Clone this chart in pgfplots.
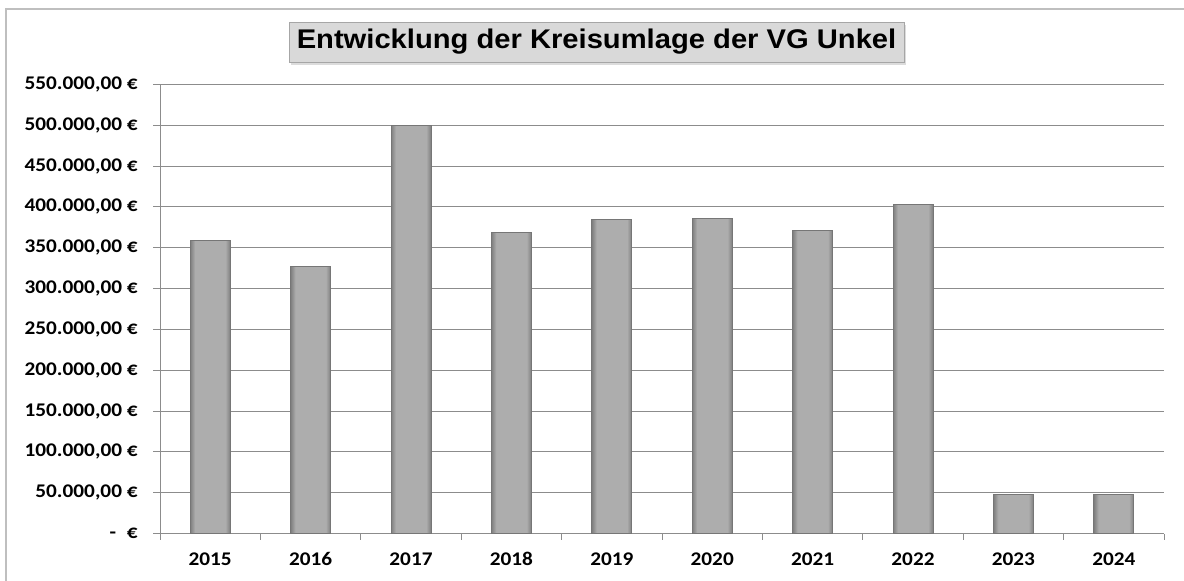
\documentclass[border=0pt]{standalone}
\usepackage{fontspec}
\setmainfont{Carlito}[FakeStretch=1.1]
\newfontfamily\titlefont{Liberation Sans}[FakeStretch=1.08]
\usepackage{pgfplots}
\pgfplotsset{compat=1.18}
\usetikzlibrary{shadows}
\definecolor{gridgray}{HTML}{8C8C8C}
\definecolor{borderGray}{HTML}{BFBFBF}
\definecolor{barDark}{HTML}{7E7E7E}
\definecolor{barLight}{HTML}{ADADAD}
\definecolor{barEdge}{HTML}{767676}
\definecolor{titleFill}{HTML}{D9D9D9}
\pgfdeclarehorizontalshading{barshade}{100bp}{color(0bp)=(barDark); color(25bp)=(barDark); color(31bp)=(barLight); color(69bp)=(barLight); color(75bp)=(barDark); color(100bp)=(barDark)}
\pgfplotsset{bar/.style={ybar, bar width=30pt, bar shift=0pt, draw=barEdge, line width=0.6pt, shading=barshade}}
\begin{document}
\begin{tikzpicture}
\useasboundingbox (0,0) rectangle (888pt,435.75pt);
\draw[borderGray, line width=0.9pt] (4.5pt,0) -- (4.5pt,429pt) -- (888pt,429pt);
\node[draw=gray!70, fill=titleFill, minimum width=461pt, minimum height=30pt, inner sep=0pt,
      drop shadow={shadow xshift=1.5pt, shadow yshift=-2pt, fill=gray!55}]
  at (447.4pt,404.25pt) {\titlefont\fontsize{20.25}{24}\selectfont\bfseries Entwicklung der Kreisumlage der VG Unkel};
\begin{axis}[
  at={(120pt,35.6pt)}, anchor=south west,
  scale only axis, width=753pt, height=336.9pt,
  xmin=-0.5, xmax=9.5, ymin=0, ymax=550000,
  axis lines*=left,
  axis line style={gridgray, line width=0.75pt},
  ytick={0,50000,100000,150000,200000,250000,300000,350000,400000,450000,500000,550000},
  yticklabels={{-\hspace{8pt}€},{50.000,00 €},{100.000,00 €},{150.000,00 €},{200.000,00 €},{250.000,00 €},{300.000,00 €},{350.000,00 €},{400.000,00 €},{450.000,00 €},{500.000,00 €},{550.000,00 €}},
  scaled y ticks=false,
  xtick={0,1,2,3,4,5,6,7,8,9},
  xticklabels={2015,2016,2017,2018,2019,2020,2021,2022,2023,2024},
  minor xtick={-0.5,0.5,1.5,2.5,3.5,4.5,5.5,6.5,7.5,8.5,9.5},
  ymajorgrids,
  major grid style={gridgray, line width=0.75pt},
  tick align=outside,
  major tick length=5.25pt,
  minor tick length=4.5pt,
  every major x tick/.style={draw=none},
  every minor x tick/.style={gridgray, line width=0.75pt},
  every major y tick/.style={gridgray, line width=0.75pt},
  ticklabel style={font=\fontsize{14.5}{16}\selectfont\bfseries, text=black},
  yticklabel style={xshift=-8pt},
  xticklabel style={yshift=-5pt, text height=10pt, text depth=0pt},
  clip=false,
]
\addplot[bar] coordinates {(0,359000)};
\addplot[bar] coordinates {(1,327500)};
\addplot[bar] coordinates {(2,500000)};
\addplot[bar] coordinates {(3,369000)};
\addplot[bar] coordinates {(4,385000)};
\addplot[bar] coordinates {(5,386000)};
\addplot[bar] coordinates {(6,371000)};
\addplot[bar] coordinates {(7,403000)};
\addplot[bar] coordinates {(8,47500)};
\addplot[bar] coordinates {(9,47500)};
\end{axis}
\end{tikzpicture}
\end{document}
